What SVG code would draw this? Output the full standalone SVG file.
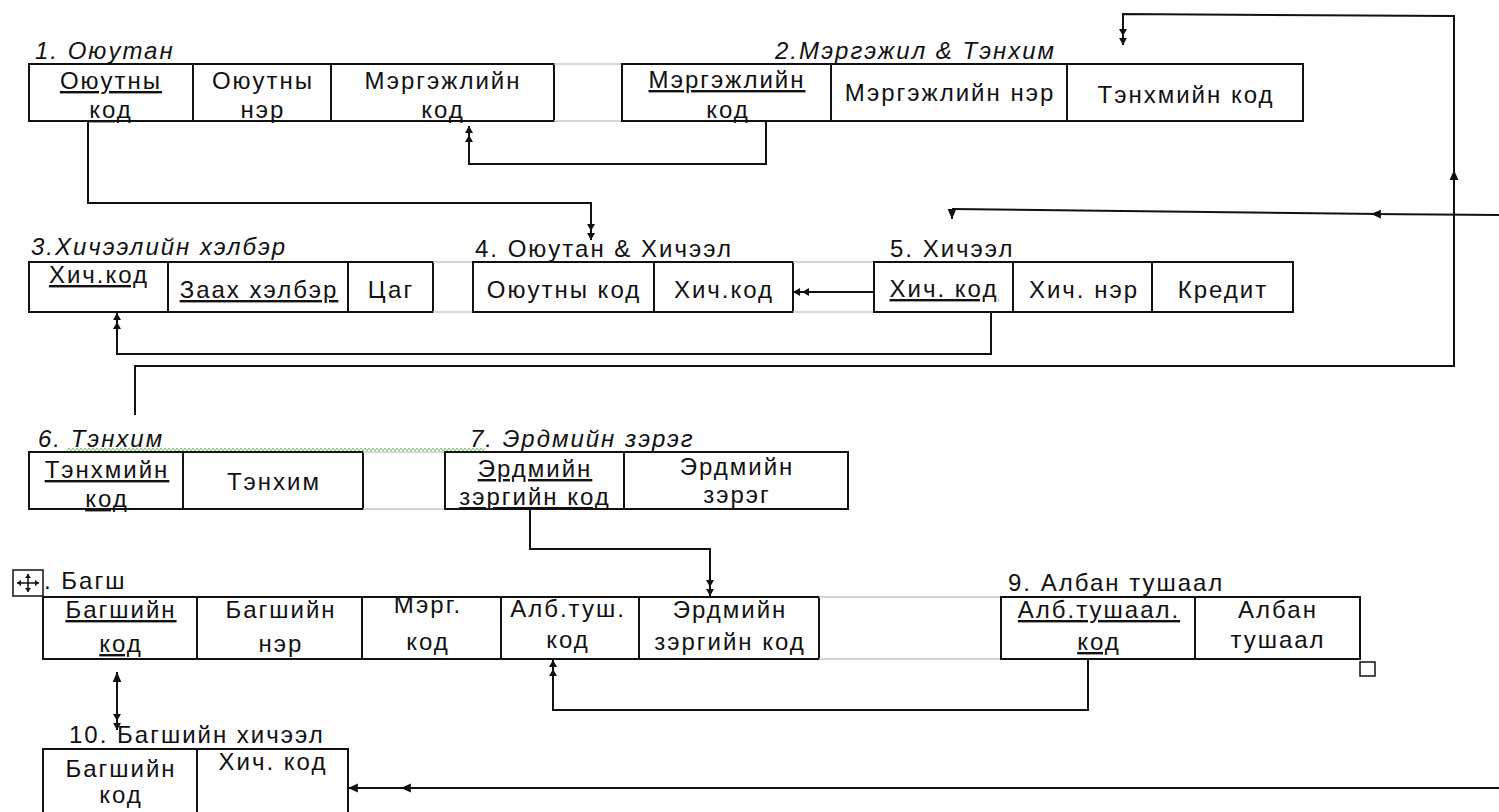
<svg xmlns="http://www.w3.org/2000/svg" width="1499" height="812" viewBox="0 0 1499 812">
<style>
text{font-family:"Liberation Sans",Arial,sans-serif;font-size:24px;letter-spacing:2px;fill:#111}
.t{text-anchor:middle}
.u{text-decoration:underline}
.i{font-style:italic}
.box{fill:none;stroke:#111;stroke-width:2}
.gap{fill:none;stroke:#c8c8c8;stroke-width:1.5}
.c{fill:none;stroke:#111;stroke-width:2}
</style>
<defs>
<marker id="a1" viewBox="0 0 10 10" refX="9" refY="5" markerWidth="11" markerHeight="11" markerUnits="userSpaceOnUse" orient="auto-start-reverse"><path d="M0,1 L9,5 L0,9 z" fill="#111"/></marker>
<marker id="a2" viewBox="0 0 20 10" refX="18" refY="5" markerWidth="20" markerHeight="10" markerUnits="userSpaceOnUse" orient="auto"><path d="M2,1 L9,5 L2,9 z M11,1 L18,5 L11,9 z" fill="#111"/></marker>
<pattern id="sq" x="67" y="447" width="4" height="5" patternUnits="userSpaceOnUse"><path d="M0,4 L2,1 L4,4" fill="none" stroke="#6db36d" stroke-width="0.9"/></pattern>
</defs>
<rect width="1499" height="812" fill="#fff"/>

<g id="t1">
<text class="i" x="35" y="59">1. Оюутан</text>
<rect class="box" x="29" y="64" width="525" height="57"/>
<line class="box" x1="193" y1="64" x2="193" y2="121"/>
<line class="box" x1="331" y1="64" x2="331" y2="121"/>
<text class="t u" x="111" y="89">Оюутны</text>
<text class="t u" x="111" y="118">код</text>
<text class="t" x="263" y="89">Оюутны</text>
<text class="t" x="263" y="118">нэр</text>
<text class="t" x="443" y="89">Мэргэжлийн</text>
<text class="t" x="443" y="118">код</text>
</g>
<g id="gap12"><line class="gap" x1="554" y1="64" x2="622" y2="64"/><line class="gap" x1="554" y1="121" x2="622" y2="121"/></g>
<g id="t2">
<text class="i" x="775" y="59">2.Мэргэжил &amp; Тэнхим</text>
<rect class="box" x="622" y="64" width="681" height="57"/>
<line class="box" x1="831" y1="64" x2="831" y2="121"/>
<line class="box" x1="1067" y1="64" x2="1067" y2="121"/>
<text class="t u" x="727" y="88">Мэргэжлийн</text>
<text class="t" x="728" y="118">код</text>
<text class="t" x="950" y="101">Мэргэжлийн нэр</text>
<text class="t" x="1186" y="103">Тэнхмийн код</text>
</g>

<g id="t3">
<text class="i" x="31" y="255">3.Хичээлийн хэлбэр</text>
<rect class="box" x="29" y="262" width="404" height="50"/>
<line class="box" x1="168" y1="262" x2="168" y2="312"/>
<line class="box" x1="348" y1="262" x2="348" y2="312"/>
<text class="t u" x="99" y="283">Хич.код</text>
<text class="t u" x="259" y="298">Заах хэлбэр</text>
<text class="t" x="391" y="298">Цаг</text>
</g>
<g id="gap34"><line class="gap" x1="433" y1="262" x2="473" y2="262"/><line class="gap" x1="433" y1="312" x2="473" y2="312"/></g>
<g id="t4">
<text x="475" y="257">4. Оюутан &amp; Хичээл</text>
<rect class="box" x="473" y="262" width="320" height="50"/>
<line class="box" x1="654" y1="262" x2="654" y2="312"/>
<text class="t" x="564" y="298">Оюутны код</text>
<text class="t" x="724" y="298">Хич.код</text>
</g>
<g id="gap45"><line class="gap" x1="793" y1="262" x2="874" y2="262"/><line class="gap" x1="793" y1="312" x2="874" y2="312"/></g>
<g id="t5">
<text x="890" y="257">5. Хичээл</text>
<rect class="box" x="874" y="262" width="419" height="50"/>
<line class="box" x1="1013" y1="262" x2="1013" y2="312"/>
<line class="box" x1="1152" y1="262" x2="1152" y2="312"/>
<text class="t u" x="944" y="297">Хич. код</text>
<text class="t" x="1084" y="298">Хич. нэр</text>
<text class="t" x="1223" y="298">Кредит</text>
</g>

<g id="t6">
<text class="i" x="38" y="447">6. Тэнхим</text>
<rect x="67" y="447" width="418" height="5" fill="url(#sq)"/>
<rect class="box" x="29" y="452" width="334" height="57"/>
<line class="box" x1="183" y1="452" x2="183" y2="509"/>
<text class="t u" x="107" y="478">Тэнхмийн</text>
<text class="t u" x="107" y="507">код</text>
<text class="t" x="274" y="490">Тэнхим</text>
</g>
<g id="gap67"><line class="gap" x1="363" y1="452" x2="445" y2="452"/><line class="gap" x1="363" y1="509" x2="445" y2="509"/></g>
<g id="t7">
<text class="i" x="470" y="447">7. Эрдмийн зэрэг</text>
<rect class="box" x="445" y="452" width="403" height="57"/>
<line class="box" x1="624" y1="452" x2="624" y2="509"/>
<text class="t u" x="535" y="477">Эрдмийн</text>
<text class="t u" x="535" y="505">зэргийн код</text>
<text class="t" x="737" y="475">Эрдмийн</text>
<text class="t" x="737" y="503">зэрэг</text>
</g>

<g id="t8">
<g id="icon8">
<rect x="13" y="570" width="30" height="26" fill="#fff" stroke="#111" stroke-width="1.5"/>
<line x1="17" y1="583" x2="39" y2="583" stroke="#111" stroke-width="1.5"/>
<line x1="28" y1="574" x2="28" y2="592" stroke="#111" stroke-width="1.5"/>
<path d="M17,583 l4,-3 v6 z M39,583 l-4,-3 v6 z M28,574 l-3,4 h6 z M28,592 l-3,-4 h6 z" fill="#111"/>
</g>
<text x="44" y="589">. Багш</text>
<rect class="box" x="43" y="597" width="776" height="62"/>
<line class="box" x1="197" y1="597" x2="197" y2="659"/>
<line class="box" x1="362" y1="597" x2="362" y2="659"/>
<line class="box" x1="501" y1="597" x2="501" y2="659"/>
<line class="box" x1="639" y1="597" x2="639" y2="659"/>
<text class="t u" x="121" y="618">Багшийн</text>
<text class="t u" x="121" y="652">код</text>
<text class="t" x="281" y="618">Багшийн</text>
<text class="t" x="281" y="652">нэр</text>
<text class="t" x="428" y="613">Мэрг.</text>
<text class="t" x="428" y="650">код</text>
<text class="t" x="568" y="617">Алб.туш.</text>
<text class="t" x="568" y="648">код</text>
<text class="t" x="730" y="618">Эрдмийн</text>
<text class="t" x="730" y="650">зэргийн код</text>
</g>
<g id="gap89"><line class="gap" x1="819" y1="597" x2="1001" y2="597"/><line class="gap" x1="819" y1="659" x2="1001" y2="659"/></g>
<g id="t9">
<text x="1008" y="591">9. Албан  тушаал</text>
<rect class="box" x="1001" y="597" width="359" height="62"/>
<line class="box" x1="1195" y1="597" x2="1195" y2="659"/>
<text class="t u" x="1099" y="618">Алб.тушаал.</text>
<text class="t u" x="1099" y="650">код</text>
<text class="t" x="1278" y="618">Албан</text>
<text class="t" x="1278" y="648">тушаал</text>
<rect x="1360" y="662" width="15" height="14" fill="#fff" stroke="#111" stroke-width="1.5"/>
</g>

<g id="t10">
<text x="69" y="743">10. Багшийн хичээл</text>
<rect class="box" x="43" y="749" width="305" height="80"/>
<line class="box" x1="197" y1="749" x2="197" y2="829"/>
<text class="t" x="121" y="777">Багшийн</text>
<text class="t" x="121" y="803">код</text>
<text class="t" x="273" y="770">Хич. код</text>
</g>

<g id="connectors">
<path class="c" d="M88,121 V203 H591 V240" marker-end="url(#a2)"/>
<path class="c" d="M766,121 V164 H469 V126" marker-end="url(#a2)"/>
<path class="c" d="M135,415 V366 H1454 V16 L1123,14 V45" marker-end="url(#a2)"/>
<path class="c" d="M1454,250 V170" marker-end="url(#a1)"/>
<path class="c" d="M1499,215 L1371,214" marker-end="url(#a1)"/>
<path class="c" d="M1380,214 L952,209"/>
<path class="c" d="M952,209 V219" marker-end="url(#a1)"/>
<path class="c" d="M874,292 H793" marker-end="url(#a2)"/>
<path class="c" d="M991,312 V354 H117 V313" marker-end="url(#a2)"/>
<path class="c" d="M530,509 V549 H710 V596" marker-end="url(#a2)"/>
<path class="c" d="M1088,659 V710 H553 V660" marker-end="url(#a2)"/>
<path class="c" d="M117,672 V730" marker-start="url(#a1)" marker-end="url(#a2)"/>
<path class="c" d="M1499,788 H401" marker-end="url(#a1)"/>
<path class="c" d="M405,788 H348" marker-end="url(#a1)"/>
</g>
</svg>
